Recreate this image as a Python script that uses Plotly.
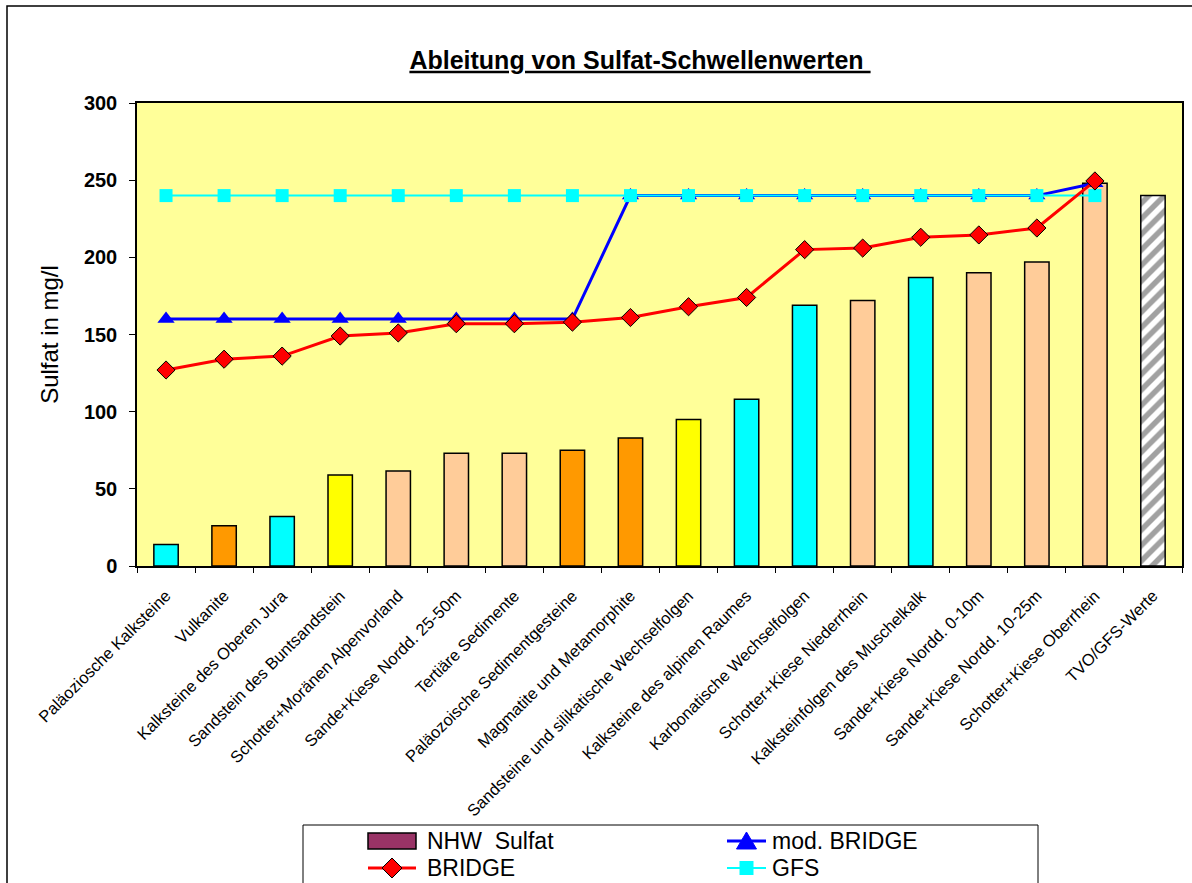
import plotly.graph_objects as go

# Kategorien (Hydrogeologische Einheiten)
categories = [
    "Paläoziosche Kalksteine",
    "Vulkanite",
    "Kalksteine des Oberen Jura",
    "Sandstein des Buntsandstein",
    "Schotter+Moränen Alpenvorland",
    "Sande+Kiese Nordd. 25-50m",
    "Tertiäre Sedimente",
    "Paläozoische Sedimentgesteine",
    "Magmatite und Metamorphite",
    "Sandsteine und silikatische Wechselfolgen",
    "Kalksteine des alpinen Raumes",
    "Karbonatische Wechselfolgen",
    "Schotter+Kiese Niederrhein",
    "Kalksteinfolgen des Muschelkalk",
    "Sande+Kiese Nordd. 0-10m",
    "Sande+Kiese Nordd. 10-25m",
    "Schotter+Kiese Oberrhein",
    "TVO/GFS-Werte",
]

# NHW Sulfat (mg/l)
nhw_sulfat = [14, 26, 32, 59, 61.5, 73, 73, 75, 83, 95, 108,
              169, 172, 187, 190, 197, 248, 240]

# Balkenfarben je Einheit
bar_colors = ["#00FFFF", "#FF9900", "#00FFFF", "#FFFF00", "#FFCC99", "#FFCC99",
              "#FFCC99", "#FF9900", "#FF9900", "#FFFF00", "#00FFFF", "#00FFFF",
              "#FFCC99", "#00FFFF", "#FFCC99", "#FFCC99", "#FFCC99", "#FFFFFF"]
bar_patterns = [""] * 17 + ["/"]

# Schwellenwerte
bridge = [127, 134, 136, 149, 151, 157, 157, 158, 161, 168, 174,
          205, 206, 213, 214.5, 219, 249.5, None]
mod_bridge = [160, 160, 160, 160, 160, 160, 160, 160, 240, 240, 240,
              240, 240, 240, 240, 240, 248, None]
gfs = [240] * 17 + [None]

# Legende: Name, Farbe, Art des Symbols, Spalte, Zeile
legend_entries = [
    ("NHW  Sulfat", "#993366", "bar", 0, 0),
    ("mod. BRIDGE", "#0000FF", "triangle", 1, 0),
    ("BRIDGE", "#FF0000", "diamond", 0, 1),
    ("GFS", "#00FFFF", "square", 1, 1),
]

fig = go.Figure()

fig.add_trace(go.Bar(
    x=categories, y=nhw_sulfat, name="NHW  Sulfat", width=0.42,
    marker=dict(color=bar_colors, line=dict(color="black", width=1.5),
                pattern=dict(shape=bar_patterns, fgcolor="black", bgcolor=bar_colors,
                             size=11, solidity=0.5)),
))

fig.add_trace(go.Scatter(
    x=categories, y=mod_bridge, name="mod. BRIDGE", mode="lines+markers",
    line=dict(color="#0000FF", width=3),
    marker=dict(symbol="triangle-up", size=15, color="#0000FF"),
))

fig.add_trace(go.Scatter(
    x=categories, y=gfs, name="GFS", mode="lines+markers",
    line=dict(color="#00FFFF", width=2),
    marker=dict(symbol="square", size=13, color="#00FFFF"),
))

fig.add_trace(go.Scatter(
    x=categories, y=bridge, name="BRIDGE", mode="lines+markers",
    line=dict(color="#FF0000", width=3),
    marker=dict(symbol="diamond", size=14, color="#FF0000", line=dict(color="black", width=1)),
))

L, T, PW, PH = 137, 103, 1045, 463

def px_x(p):
    return (p - L) / PW

def px_y(p):
    return (T + PH - p) / PH

def paper_path(points):
    return "M " + " L ".join(f"{px_x(x):.5f},{px_y(y):.5f}" for x, y in points) + " Z"

shapes = [
    # Rahmen um das Diagramm
    dict(type="rect", xref="paper", yref="paper",
         x0=px_x(7), x1=px_x(1200), y0=px_y(900), y1=px_y(6),
         line=dict(color="black", width=1.5), fillcolor="rgba(0,0,0,0)", layer="below"),
    # Legendenrahmen
    dict(type="rect", xref="paper", yref="paper",
         x0=px_x(303), x1=px_x(1038), y0=px_y(900), y1=px_y(825),
         line=dict(color="black", width=1), fillcolor="white", layer="below"),
]
annotations = []

col_sym = [(368, 416), (727, 766)]
col_text = [425, 770]
row_y = [841, 868]

for name, color, kind, col, row in legend_entries:
    x0, x1 = col_sym[col]
    xc = (x0 + x1) / 2
    yc = row_y[row]
    if kind == "bar":
        shapes.append(dict(type="rect", xref="paper", yref="paper",
                           x0=px_x(x0), x1=px_x(x1), y0=px_y(yc + 8), y1=px_y(yc - 8),
                           fillcolor=color, line=dict(color="black", width=1.5)))
    else:
        shapes.append(dict(type="line", xref="paper", yref="paper",
                           x0=px_x(x0), x1=px_x(x1), y0=px_y(yc), y1=px_y(yc),
                           line=dict(color=color, width=2 if kind == "square" else 3)))
        if kind == "diamond":
            pts = [(xc - 10, yc), (xc, yc - 10), (xc + 10, yc), (xc, yc + 10)]
            shapes.append(dict(type="path", xref="paper", yref="paper", path=paper_path(pts),
                               fillcolor=color, line=dict(color="black", width=1)))
        elif kind == "triangle":
            pts = [(xc - 10, yc + 8), (xc + 10, yc + 8), (xc, yc - 9)]
            shapes.append(dict(type="path", xref="paper", yref="paper", path=paper_path(pts),
                               fillcolor=color, line=dict(color=color, width=1)))
        else:
            shapes.append(dict(type="rect", xref="paper", yref="paper",
                               x0=px_x(xc - 7), x1=px_x(xc + 7), y0=px_y(yc + 7), y1=px_y(yc - 7),
                               fillcolor=color, line=dict(color=color, width=0)))
    annotations.append(dict(text=name, xref="paper", yref="paper",
                            x=px_x(col_text[col]), y=px_y(yc), xanchor="left", yanchor="middle",
                            showarrow=False, font=dict(size=23, color="black")))

fig.update_layout(
    width=1192, height=883,
    margin=dict(l=L, r=1192 - L - PW, t=T, b=883 - T - PH, autoexpand=False),
    paper_bgcolor="white", plot_bgcolor="#FFFF99",
    font=dict(family="Arial, Liberation Sans, sans-serif", color="black"),
    title=dict(text="<u><b>Ableitung von Sulfat-Schwellenwerten </b></u>",
               x=640 / 1192, xanchor="center", y=1 - 60 / 883, yanchor="middle",
               font=dict(size=25)),
    bargap=0.58,
    showlegend=False,
    shapes=shapes,
    annotations=annotations,
)

fig.update_xaxes(
    type="category", tickson="boundaries", ticks="outside", ticklen=5,
    tickcolor="black", showline=True, linecolor="black", linewidth=1.5, mirror=True,
    tickangle=-45, tickfont=dict(size=16.5), ticklabelstandoff=12,
    showgrid=False, range=[-0.5, 17.5],
)
fig.update_yaxes(
    range=[0, 300], dtick=50, ticks="outside", ticklen=6, tickcolor="black",
    showline=True, linecolor="black", linewidth=1.5, mirror=True, showgrid=False,
    zeroline=False, tickfont=dict(size=20, weight="bold"), ticklabelstandoff=8,
    title=dict(text="Sulfat in mg/l", font=dict(size=24), standoff=18),
)

fig.write_html("out.html")
